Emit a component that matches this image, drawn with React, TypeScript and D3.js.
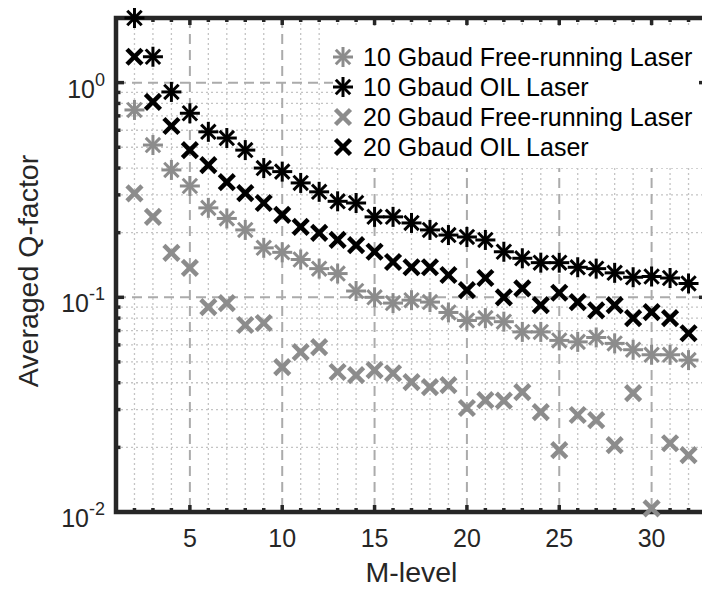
import React from "react";
import * as d3 from "d3";

// M-levels on the x axis
const mLevels = [2, 3, 4, 5, 6, 7, 8, 9, 10, 11, 12, 13, 14, 15, 16, 17, 18, 19, 20, 21, 22, 23, 24, 25, 26, 27, 28, 29, 30, 31, 32];

const free10 = [0.746, 0.512, 0.392, 0.33, 0.261, 0.233, 0.206, 0.17, 0.162, 0.15, 0.136, 0.129, 0.107, 0.1, 0.094, 0.097, 0.095, 0.085, 0.078, 0.08, 0.077, 0.069, 0.069, 0.063, 0.062, 0.065, 0.061, 0.057, 0.054, 0.054, 0.051];
const oil10 = [2.0, 1.32, 0.905, 0.72, 0.59, 0.552, 0.485, 0.4, 0.385, 0.341, 0.31, 0.28, 0.275, 0.237, 0.237, 0.222, 0.206, 0.195, 0.191, 0.185, 0.163, 0.152, 0.145, 0.145, 0.138, 0.136, 0.13, 0.124, 0.125, 0.123, 0.116];
const free20 = [0.305, 0.237, 0.161, 0.137, 0.09, 0.094, 0.0743, 0.0759, 0.0473, 0.0556, 0.0586, 0.0449, 0.0434, 0.0458, 0.0443, 0.0403, 0.0382, 0.039, 0.0305, 0.0332, 0.033, 0.0362, 0.0292, 0.0194, 0.0283, 0.0268, 0.0205, 0.0358, 0.0104, 0.0209, 0.0184];
const oil20 = [1.32, 0.813, 0.628, 0.485, 0.413, 0.344, 0.306, 0.275, 0.242, 0.213, 0.1995, 0.185, 0.175, 0.163, 0.146, 0.138, 0.138, 0.127, 0.108, 0.123, 0.1, 0.11, 0.092, 0.105, 0.095, 0.087, 0.092, 0.08, 0.0853, 0.08, 0.068];

const seriesNames = [
  "10 Gbaud Free-running Laser",
  "10 Gbaud OIL Laser",
  "20 Gbaud Free-running Laser",
  "20 Gbaud OIL Laser",
];

const xMajorTicks = [5, 10, 15, 20, 25, 30];
const yMajorTicks = [0.01, 0.1, 1];
const yExponents = ["-2", "-1", "0"];

const GRAY = "#8c8c8c";
const AXIS = "#262626";
const FONT = "'Liberation Sans', Arial, Helvetica, sans-serif";

const Asterisk = ({ cx, cy, color }) => {
  const r = 10;
  const d = r * 0.72;
  return (
    <g stroke={color} strokeWidth={3}>
      <line x1={cx - r} y1={cy} x2={cx + r} y2={cy} />
      <line x1={cx} y1={cy - r} x2={cx} y2={cy + r} />
      <line x1={cx - d} y1={cy - d} x2={cx + d} y2={cy + d} />
      <line x1={cx - d} y1={cy + d} x2={cx + d} y2={cy - d} />
    </g>
  );
};

const Cross = ({ cx, cy, color }) => {
  const r = 7.5;
  return (
    <g stroke={color} strokeWidth={4.5}>
      <line x1={cx - r} y1={cy - r} x2={cx + r} y2={cy + r} />
      <line x1={cx - r} y1={cy + r} x2={cx + r} y2={cy - r} />
    </g>
  );
};

export default function App() {
  const left = 116;
  const right = 707;
  const top = 18;
  const bottom = 512;

  const x = d3.scaleLinear().domain([1, 33]).range([left, right]);
  const y = d3.scaleLog().domain([0.01, 2]).range([bottom, top]);

  const xMinor = d3.range(1, 34);
  const yMinor = y.ticks().filter((v) => v <= 2);

  const series = [
    { name: seriesNames[0], values: free10, color: GRAY, Marker: Asterisk },
    { name: seriesNames[1], values: oil10, color: "#000", Marker: Asterisk },
    { name: seriesNames[2], values: free20, color: GRAY, Marker: Cross },
    { name: seriesNames[3], values: oil20, color: "#000", Marker: Cross },
  ];

  const isMajorY = (v) => yMajorTicks.some((m) => Math.abs(m - v) / m < 1e-6);

  return (
    <svg
      width={702}
      height={590}
      style={{ position: "absolute", left: 0, top: 0, background: "#fff" }}
      fontFamily={FONT}
    >
      {/* minor grid */}
      <g stroke="#c4c4c4" strokeWidth={1.3} strokeDasharray="2,3">
        {xMinor
          .filter((v) => !xMajorTicks.includes(v))
          .map((v) => (
            <line key={"gx" + v} x1={x(v)} x2={x(v)} y1={top} y2={bottom} />
          ))}
        {yMinor
          .filter((v) => !isMajorY(v))
          .map((v) => (
            <line key={"gy" + v} x1={left} x2={right} y1={y(v)} y2={y(v)} />
          ))}
      </g>
      {/* major grid */}
      <g stroke="#ababab" strokeWidth={2} strokeDasharray="10,6">
        {xMajorTicks.map((v) => (
          <line key={"Gx" + v} x1={x(v)} x2={x(v)} y1={top} y2={bottom} />
        ))}
        {yMajorTicks.map((v) => (
          <line key={"Gy" + v} x1={left} x2={right} y1={y(v)} y2={y(v)} />
        ))}
      </g>

      {/* legend background */}
      <rect x={333} y={26} width={370} height={142} fill="#fff" />

      {/* ticks */}
      <g stroke={AXIS} strokeWidth={3.5}>
        {xMinor.map((v) => {
          const len = xMajorTicks.includes(v) ? 7 : 4;
          return (
            <g key={"tx" + v}>
              <line x1={x(v)} x2={x(v)} y1={bottom} y2={bottom - len} />
              <line x1={x(v)} x2={x(v)} y1={top} y2={top + len} />
            </g>
          );
        })}
        {yMinor.map((v) => {
          const len = isMajorY(v) ? 8 : 4.5;
          return (
            <g key={"ty" + v}>
              <line x1={left} x2={left + len} y1={y(v)} y2={y(v)} />
              <line x1={right} x2={right - len} y1={y(v)} y2={y(v)} />
            </g>
          );
        })}
      </g>

      {/* axes box */}
      <rect
        x={left}
        y={top}
        width={right - left}
        height={bottom - top}
        fill="none"
        stroke={AXIS}
        strokeWidth={4.5}
      />

      {/* data */}
      {series.map((s) =>
        s.values.map((v, i) => (
          <s.Marker key={s.name + i} cx={x(mLevels[i])} cy={y(v)} color={s.color} />
        ))
      )}

      {/* x tick labels */}
      <g fontSize={25} fill={AXIS} textAnchor="middle">
        {xMajorTicks.map((v) => (
          <text key={"lx" + v} x={x(v)} y={547}>
            {v}
          </text>
        ))}
      </g>
      {/* y tick labels */}
      <g fontSize={25} fill={AXIS} textAnchor="end">
        {yMajorTicks.map((v, i) => (
          <text key={"ly" + v} x={105} y={y(v) + 15}>
            10
            <tspan dy={-12} fontSize={18}>
              {yExponents[i]}
            </tspan>
          </text>
        ))}
      </g>

      {/* axis labels */}
      <text x={(left + right) / 2} y={582} fontSize={28.5} fill={AXIS} textAnchor="middle">
        M-level
      </text>
      <text
        transform={`translate(38,${(top + bottom) / 2 + 6}) rotate(-90)`}
        fontSize={28.5}
        fill={AXIS}
        textAnchor="middle"
      >
        Averaged Q-factor
      </text>

      {/* legend */}
      {series.map((s, i) => (
        <g key={"lg" + i}>
          <s.Marker cx={343} cy={57 + i * 30} color={s.color} />
          <text x={363} y={57 + i * 30 + 9} fontSize={25} fill="#000">
            {s.name}
          </text>
        </g>
      ))}
    </svg>
  );
}
